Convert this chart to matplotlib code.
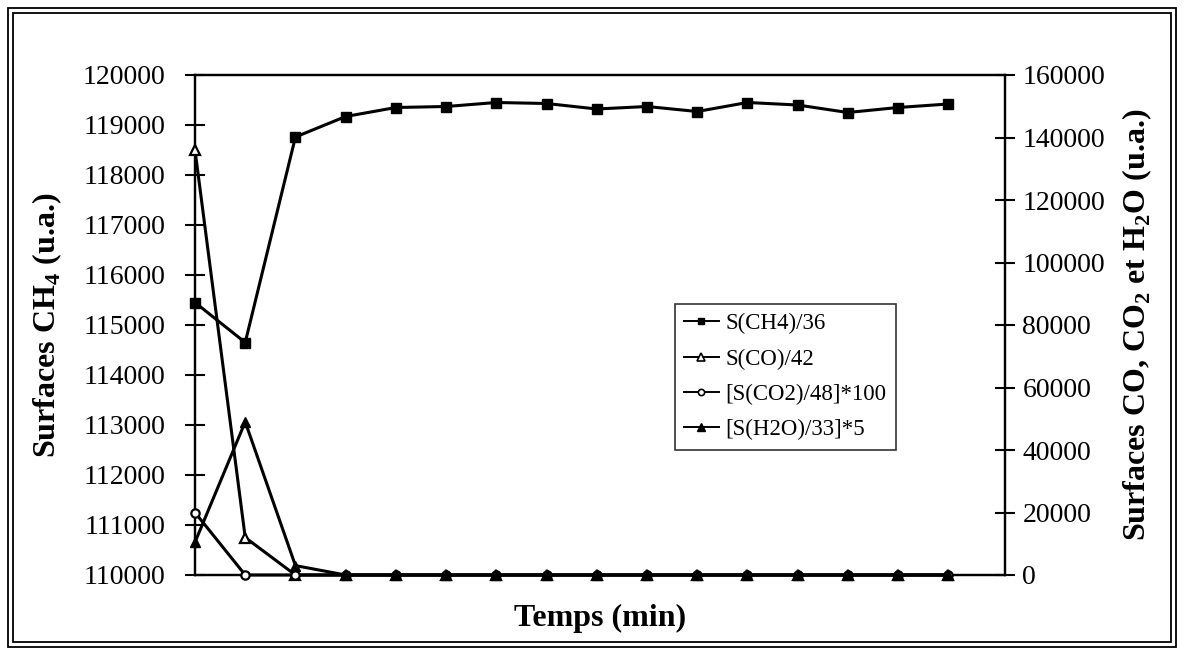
import numpy as np
import matplotlib
matplotlib.use("Agg")
import matplotlib.pyplot as plt
from matplotlib.lines import Line2D

plt.rcParams['font.family'] = ['Liberation Serif', 'DejaVu Serif']
plt.rcParams['mathtext.fontset'] = 'custom'
plt.rcParams['mathtext.rm'] = 'Liberation Serif'
plt.rcParams['mathtext.bf'] = 'Liberation Serif:bold'

# surfaces des pics, un point par injection
temps = np.arange(16)
s_ch4 = [115450, 114650, 118760, 119170, 119350, 119370, 119450, 119430,
         119320, 119370, 119270, 119450, 119400, 119250, 119350, 119420]
s_co = [136000, 12000, 0, 0, 0, 0, 0, 0, 0, 0, 0, 0, 0, 0, 0, 0]
s_co2 = [20000, 0, 0, 0, 0, 0, 0, 0, 0, 0, 0, 0, 0, 0, 0, 0]
s_h2o = [10500, 49000, 3000, 0, 0, 0, 0, 0, 0, 0, 0, 0, 0, 0, 0, 0]

noms = ['S(CH4)/36', 'S(CO)/42', '[S(CO2)/48]*100', '[S(H2O)/33]*5']
left_ticks = np.arange(110000, 120001, 1000)
right_ticks = np.arange(0, 160001, 20000)

W, H = 1184, 655
fig = plt.figure(figsize=(W / 100, H / 100), dpi=100)
ax = fig.add_axes([195 / W, 1 - 575 / H, (1005 - 195) / W, 500 / H])
ax2 = ax.twinx()

lw = 2.2
ax.plot(temps, s_ch4, color='black', lw=lw, marker='s', ms=6.5, clip_on=False, zorder=3)
ax2.plot(temps, s_co, color='black', lw=lw, marker='^', ms=7.5, mfc='white',
         mew=1.6, clip_on=False, zorder=3)
ax2.plot(temps, s_co2, color='black', lw=lw, marker='o', ms=6, mfc='white',
         mew=1.6, clip_on=False, zorder=4)
ax2.plot(temps, s_h2o, color='black', lw=lw, marker='^', ms=7, clip_on=False, zorder=5)

ax.set_xlim(0, 16.13)
ax.set_ylim(110000, 120000)
ax2.set_ylim(0, 160000)
ax.set_yticks(left_ticks)
ax2.set_yticks(right_ticks)
ax.set_xticks([])

for a in (ax, ax2):
    for sp in a.spines.values():
        sp.set_linewidth(1.6)
    a.tick_params(axis='y', direction='inout', length=15, width=1.5, labelsize=20)
ax.tick_params(axis='y', pad=14)
ax2.tick_params(axis='y', pad=5)

ax.set_ylabel(r'Surfaces CH$_\mathbf{4}$ (u.a.)', fontsize=23, fontweight='bold', labelpad=13)
ax2.set_ylabel(r'Surfaces CO, CO$_\mathbf{2}$ et H$_\mathbf{2}$O (u.a.)', fontsize=23,
               fontweight='bold', labelpad=11)
ax.set_xlabel('Temps (min)', fontsize=23, fontweight='bold', labelpad=21)

# légende avec petits symboles
handles = [
    Line2D([], [], color='black', lw=1.4, marker='s', ms=5),
    Line2D([], [], color='black', lw=1.4, marker='^', ms=5.5, mfc='white', mew=1.2),
    Line2D([], [], color='black', lw=1.4, marker='o', ms=4.5, mfc='white', mew=1.2),
    Line2D([], [], color='black', lw=1.4, marker='^', ms=5.5),
]
leg = ax2.legend(handles, noms, loc='upper left', bbox_to_anchor=(480 / 810, 1 - 229 / 500),
                 fontsize=16.5, frameon=True, fancybox=False, handlelength=1.5,
                 handletextpad=0.3, labelspacing=0.62, borderpad=0.4, borderaxespad=0)
leg.get_frame().set_edgecolor('black')
leg.get_frame().set_linewidth(1.2)

# cadre double autour de la figure
for off in (8, 13):
    fig.add_artist(plt.Rectangle((off / W, off / H), 1 - 2 * off / W, 1 - 2 * off / H,
                                 transform=fig.transFigure, fill=False,
                                 edgecolor='black', lw=1.3))

fig.savefig('out.png', dpi=100)
